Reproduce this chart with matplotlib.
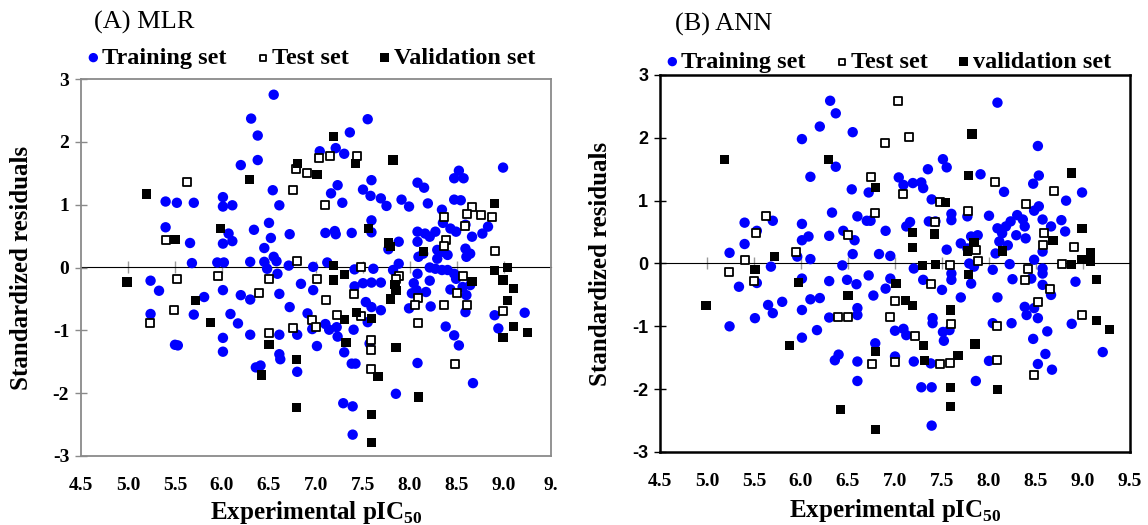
import numpy as np
import matplotlib
matplotlib.use("Agg")
import matplotlib.pyplot as plt

plt.rcParams['font.family'] = 'Liberation Serif'
plt.rcParams['mathtext.fontset'] = 'custom'
plt.rcParams['mathtext.rm'] = 'Liberation Serif'
plt.rcParams['mathtext.bf'] = 'Liberation Serif:bold'
plt.rcParams['axes.unicode_minus'] = False

# =========================
# DATA
# =========================
x_ticks = [4.5, 5.0, 5.5, 6.0, 6.5, 7.0, 7.5, 8.0, 8.5, 9.0, 9.5]
x_labels_mlr = ["4.5", "5.0", "5.5", "6.0", "6.5", "7.0", "7.5", "8.0", "8.5", "9.0", "9."]
x_labels_ann = ["4.5", "5.0", "5.5", "6.0", "6.5", "7.0", "7.5", "8.0", "8.5", "9.0", "9.5"]
y_ticks = [-3, -2, -1, 0, 1, 2, 3]

# (A) MLR
mlr_train_x = [6.55, 6.31, 6.38, 7.36, 6.20, 6.38, 7.04, 7.21, 7.30, 6.54, 6.61, 7.23, 7.16, 7.28,
               5.40, 5.52, 5.70, 6.01, 6.01, 6.11, 5.40, 5.66, 6.07, 6.11, 6.01, 6.50, 6.34, 6.52,
               6.45, 6.72, 7.10, 7.20, 7.21, 7.38, 5.68, 5.95, 6.02, 6.30, 6.45, 6.55, 6.58, 6.71,
               6.97, 7.12, 7.41, 6.48, 6.59, 5.24, 5.33, 6.01, 5.81, 6.20, 6.30, 6.61, 6.84, 6.97,
               6.72, 6.91, 6.09, 6.17, 5.70, 5.24, 6.30, 6.01, 6.01, 6.61, 6.80, 6.61, 6.62, 7.01,
               7.10, 7.14, 7.22, 7.23, 6.96, 7.40, 7.30, 7.38, 7.42, 5.50, 5.53, 6.36, 6.41, 6.80,
               7.41,
               7.55, 7.59, 7.50, 7.58, 7.69, 7.75, 7.91, 7.99, 8.08, 8.15, 8.19, 8.47, 8.52, 8.57,
               8.47, 8.54, 8.99, 7.59, 7.59, 7.88, 7.77,
               8.08, 8.08, 8.16, 8.21, 8.27, 8.34, 8.35, 8.43, 8.49, 8.59, 8.66, 8.77, 8.83, 8.59,
               8.60, 8.64, 8.29, 8.35, 8.40, 8.29, 8.09, 8.14,
               7.88, 7.82, 8.21, 8.27, 8.34, 8.40, 8.47, 8.49, 8.08,
               8.04, 8.02, 8.07, 8.21, 8.17, 8.22, 7.99, 8.43, 8.56, 8.64, 8.60, 8.59, 8.90, 8.94,
               9.22, 8.38, 8.47, 8.52, 8.08, 8.67,
               7.61, 7.50, 7.59, 7.69, 7.53, 7.59, 7.69, 7.55, 7.57,
               7.29, 7.39, 7.85, 7.39]
mlr_train_y = [2.75, 2.37, 2.10, 2.15, 1.63, 1.71, 1.85, 1.90, 1.81, 1.23, 0.99, 1.31, 1.18, 1.03,
               1.05, 1.03, 1.03, 1.12, 0.97, 0.99, 0.64, 0.39, 0.54, 0.42, 0.38, 0.71, 0.60, 0.47,
               0.31, 0.53, 0.55, 0.58, 0.53, 0.55, 0.07, 0.08, 0.08, 0.09, 0.09, 0.17, 0.10, 0.03,
               0.01, 0.08, -0.03, -0.02, -0.10, -0.21, -0.37, -0.36, -0.47, -0.44, -0.51, -0.42,
               -0.26, -0.36, -0.63, -0.73, -0.74, -0.89, -0.75, -0.74, -1.07, -1.12, -1.34, -1.07,
               -1.07, -1.38, -1.46, -1.25, -0.90, -0.99, -0.95, -1.10, -0.98, -0.99, -1.35, -1.53,
               -1.53, -1.23, -1.24, -1.59, -1.56, -1.66,
               -0.30,
               2.36, 1.39, 1.24, 1.14, 1.10, 0.98, 1.08, 0.97, 1.35, 1.27, 1.02, 1.42, 1.54, 1.42,
               1.08, 1.07, 1.59, 0.75, 0.56, 0.41, 0.29,
               0.57, 0.41, 0.54, 0.49, 0.57, 0.92, 0.71, 0.62, 0.57, 0.68, 0.49, 0.54, 0.65, 0.30,
               0.17, 0.22, 0.28, 0.25, 0.20, 0.14, 0.17, 0.22,
               0.06, -0.04, 0.00, -0.02, -0.04, -0.04, -0.10, -0.18, -0.10,
               -0.25, -0.41, -0.36, -0.21, -0.39, -0.62, -0.65, -0.35, -0.31, -0.28, -0.44, -0.71,
               -0.76, -0.97, -0.72, -0.94, -1.08, -1.24, -1.52, -1.84,
               -0.02, -0.25, -0.24, -0.24, -0.55, -0.63, -0.68, -0.87, -1.21,
               -2.16, -2.21, -2.01, -2.66]

mlr_test_x = [5.63, 5.40, 5.52, 5.49, 5.23, 5.96, 6.39, 6.50, 6.50, 6.75, 6.80, 6.79, 6.90, 7.03,
              7.15, 7.44, 7.10, 7.01, 7.11, 7.22, 6.96, 7.00, 6.76, 7.40, 7.48,
              8.36, 8.66, 8.61, 8.75, 8.87, 8.59, 8.38, 8.36, 8.90, 7.88, 7.85, 8.08, 8.05, 8.36,
              8.50, 8.61, 8.56, 8.99, 8.08, 8.48, 7.59, 7.58, 7.59, 7.48]
mlr_test_y = [1.36, 0.44, -0.19, -0.67, -0.88, -0.14, -0.41, -0.19, -1.04, 1.24, 0.10, 1.56, 1.51,
              1.74, 1.77, 1.78, 0.99, -0.19, -0.51, -0.76, -0.83, -0.95, -0.97, -0.42, 0.01,
              0.80, 0.97, 0.85, 0.83, 0.80, 0.66, 0.44, 0.34, 0.26, -0.14, -0.18, -0.48, -0.60,
              -0.59, -0.41, -0.59, -0.14, -0.69, -0.89, -1.54, -1.16, -1.31, -1.62, -0.77]

mlr_val_x = [5.20, 5.50, 5.98, 6.29, 4.99, 5.72, 5.88, 6.50, 6.42, 6.79, 6.80, 7.01, 7.19, 7.42,
             7.19, 7.30, 7.19, 7.30, 7.32, 7.43,
             7.82, 7.56, 7.77, 7.79, 8.14, 8.90, 8.90, 8.99, 8.66, 9.04, 9.10, 9.04, 9.10, 9.25,
             8.99, 7.85, 7.79, 7.85, 7.84, 7.59, 7.66,
             6.79, 7.59, 8.09, 7.59]
mlr_val_y = [1.17, 0.45, 0.62, 1.40, -0.23, -0.52, -0.87, -1.23, -1.71, -1.47, 1.65, 1.48, 2.09,
             1.66, 0.03, -0.11, -0.20, -0.83, -1.19, -0.71,
             1.71, 0.62, 0.39, 0.33, 0.25, 1.02, -0.05, -0.20, -0.22, 0.00, -0.33, -0.52, -0.94,
             -1.04, -1.12, -1.27, -0.50, -0.36, -0.27, -0.81, -1.73,
             -2.23, -2.34, -2.06, -2.78]

# (B) ANN
ann_train_x = [6.31, 6.37, 6.20, 6.55, 6.01, 6.37, 6.10, 6.54, 6.72, 7.04, 7.09, 7.19, 6.33, 6.60,
               6.70, 6.74, 6.90, 7.12, 7.16, 6.01, 5.70, 5.40, 5.53, 5.40, 5.24, 6.01, 6.08, 6.30,
               6.45, 6.57, 6.55, 6.83, 6.95, 6.10, 5.96, 6.44, 5.68, 7.20, 6.01, 6.30, 6.49, 6.59,
               6.72, 6.95, 6.90, 6.77, 5.53, 5.34, 5.65, 5.70, 5.80, 6.10, 6.20, 6.01, 6.30, 6.60,
               6.60, 5.51, 5.24, 6.17, 6.01, 6.36, 6.40, 6.60, 6.60, 6.79, 7.00, 7.09, 7.12, 7.20,
               7.00,
               8.09, 8.52, 7.51, 7.55, 7.35, 7.91, 8.16, 8.53, 8.47, 8.99, 8.82, 7.28, 7.30, 7.39,
               7.60, 7.60, 8.00, 7.77, 7.36, 7.43,
               8.09, 8.14, 8.18, 8.23, 8.30, 8.36, 8.38, 8.29, 8.39, 8.53, 8.48, 8.57, 8.66, 8.77,
               8.81,
               7.81, 7.88, 7.70, 7.55, 7.77,
               8.07, 8.11, 8.20, 8.22, 8.48, 8.57,
               7.79, 7.84, 7.60, 7.60, 7.81, 7.70, 7.50, 7.30, 8.04, 8.25, 8.45, 8.57, 8.57, 8.57,
               8.66, 8.92, 8.09, 8.38, 8.40, 8.48, 8.52, 8.62, 8.47, 8.88, 9.21, 8.60, 8.52, 8.67,
               8.04, 8.24, 8.00, 7.86, 7.40, 7.40, 7.51, 7.58, 7.52, 7.38,
               7.28, 7.39, 7.39]
ann_train_y = [2.59, 2.39, 2.18, 2.09, 1.98, 1.54, 1.38, 1.18, 1.13, 1.37, 1.25, 1.28, 0.81, 0.75,
               0.68, 0.68, 0.52, 0.59, 0.66, 0.63, 0.68, 0.65, 0.52, 0.31, 0.17, 0.37, 0.43, 0.44,
               0.52, 0.37, 0.15, 0.15, 0.12, 0.07, 0.11, -0.03, -0.05, -0.08, -0.24, -0.28, -0.26,
               -0.33, -0.19, -0.24, -0.40, -0.51, -0.31, -0.37, -0.66, -0.79, -0.61, -0.57, -0.55,
               -0.74, -0.86, -0.71, -0.82, -0.87, -1.00, -1.06, -1.18, -1.54, -1.45, -1.56, -1.87,
               -1.27, -1.48, -1.04, -1.14, -1.56, -1.07,
               2.56, 1.87, 1.66, 1.53, 1.50, 1.42, 1.14, 1.40, 1.27, 1.13, 1.00, 1.29, 1.20, 1.02,
               0.79, 0.69, 0.76, 0.75, 0.67, 0.67,
               0.56, 0.48, 0.59, 0.67, 0.77, 0.70, 0.59, 0.45, 0.40, 0.91, 0.84, 0.70, 0.59, 0.69,
               0.51,
               0.43, 0.45, 0.32, 0.22, 0.24,
               0.16, 0.35, 0.29, -0.01, 0.06, 0.19,
               0.00, -0.05, -0.16, -0.26, -0.32, -0.54, -0.42, -0.26, -0.10, -0.25, -0.24, -0.08,
               -0.16, -0.34, -0.50, -0.29, -0.54, -0.69, -0.82, -0.71, -0.87, -1.08, -1.20, -0.96,
               -1.41, -1.44, -1.60, -1.69, -0.95, -0.95, -1.55, -1.87, -0.87, -0.95, -1.09, -1.06,
               -1.23, -1.59,
               -1.97, -1.97, -2.58]

ann_test_x = [7.03, 7.15, 6.89, 6.74, 7.09, 6.79, 5.63, 5.52, 6.50, 5.95, 5.40, 5.23, 5.50, 7.00,
              6.95, 6.39, 6.50, 6.75, 7.00, 7.21,
              8.06, 8.69, 8.39, 7.48, 7.78, 7.43, 8.58, 8.57, 8.90, 8.78, 7.86, 7.88, 7.58, 7.38,
              8.42, 8.38, 8.65, 8.52, 8.99, 8.09, 7.60, 7.48, 7.59, 8.09, 8.48]
ann_test_y = [2.59, 2.01, 1.91, 1.38, 1.10, 0.80, 0.76, 0.49, 0.46, 0.18, 0.06, -0.14, -0.28,
              -0.60, -0.85, -0.85, -0.85, -1.60, -1.56, -1.15,
              1.29, 1.16, 0.95, 0.98, 0.83, 0.66, 0.49, 0.29, 0.27, -0.01, 0.21, 0.04, -0.02,
              -0.33, -0.08, -0.26, -0.40, -0.62, -0.82, -0.99, -0.96, -1.60, -1.58, -1.54, -1.78]

ann_val_x = [5.19, 6.29, 6.79, 7.19, 7.19, 5.72, 5.51, 5.97, 6.50, 7.01, 7.11, 7.19, 4.99, 5.88,
             6.79,
             7.82, 7.78, 8.88, 7.54, 8.99, 7.42, 7.84, 7.77, 8.14, 8.68, 9.08, 9.08, 8.99, 8.88,
             7.29, 7.43, 7.78, 9.14, 7.59, 7.30, 7.31, 7.67, 7.85, 9.14, 9.28,
             7.59, 8.09, 7.59, 6.42, 6.79]
ann_val_y = [1.66, 1.65, 1.21, 0.49, 0.26, 0.11, -0.09, -0.30, -0.51, -0.32, -0.59, -0.67, -0.67,
             -1.31, -1.40,
             2.06, 1.40, 1.44, 0.97, 0.56, 0.47, 0.33, 0.20, 0.20, 0.36, 0.17, 0.04, 0.06, -0.01,
             -0.03, -0.01, -0.18, -0.25, -0.74, -1.30, -1.54, -1.47, -1.28, -0.91, -1.05,
             -1.97, -2.00, -2.28, -2.32, -2.64]

W, H = 1148, 525


def panel(ax, title, val_name, tr, te, va, xlabels, frame_color, frame_lw, ytick_family):
    ax.scatter(tr[0], tr[1], s=56, c="#0000ff", edgecolors="none", zorder=3, label="Training set")
    ax.scatter(te[0], te[1], s=30, marker="s", facecolors="white", edgecolors="black",
               linewidths=1.3, zorder=4, label="Test set")
    ax.scatter(va[0], va[1], s=44, marker="s", c="black", edgecolors="none", zorder=5, label=val_name)

    ax.set_xlim(4.5, 9.5)
    ax.set_ylim(-3, 3)
    ax.set_xticks(x_ticks)
    ax.set_xticklabels(xlabels, fontsize=14, fontweight="bold", family="Liberation Serif")
    ax.tick_params(axis="x", length=0, pad=15)
    ax.set_yticks(y_ticks)
    ax.set_yticklabels([str(v) for v in y_ticks], fontsize=14 if ytick_family == "Liberation Serif" else 13,
                       fontweight="bold", family=ytick_family)
    ax.tick_params(axis="y", direction="inout", length=9, width=1, color=frame_color, pad=4)

    for sp in ax.spines.values():
        sp.set_color(frame_color)
        sp.set_linewidth(frame_lw)

    # zero line with cross ticks
    zero = ax.secondary_xaxis(0.5)
    zero.set_xticks(x_ticks[1:-1])
    zero.set_xticklabels([])
    zero.tick_params(direction="inout", length=9, width=1, color="#9a9a9a",
                     labelbottom=False, labeltop=False)
    zero.spines["bottom"].set_color("#9a9a9a")
    zero.spines["bottom"].set_linewidth(1)

    ax.set_ylabel("Standardized residuals", fontsize=18, fontweight="bold")
    ax.set_xlabel(r"Experimental pIC$_{\mathbf{50}}$", fontsize=18, fontweight="bold")
    ax.xaxis.label.set_va("center")
    ax.yaxis.label.set_va("center")

    ax.legend(loc="center left", ncol=3, frameon=False, handlelength=0.55, handletextpad=0.1,
              columnspacing=1.2, borderpad=0, borderaxespad=0, markerscale=0.9,
              prop=dict(family="Liberation Serif", weight="bold", size=17.5))
    ax.text(0.03, 0, title, transform=ax.transAxes, fontsize=19, va="center", ha="left")
    return ax


fig = plt.figure(figsize=(W / 100, H / 100), dpi=100)

# (A) MLR: plot box 81..551 x 79..456 px
axA = fig.add_axes([81 / W, 1 - 456 / H, 470 / W, 377 / H])
panel(axA, "(A) MLR", "Validation set", (mlr_train_x, mlr_train_y), (mlr_test_x, mlr_test_y),
      (mlr_val_x, mlr_val_y), x_labels_mlr, "#8a8a8a", 1.3, "Liberation Serif")
axA.get_legend().set_bbox_to_anchor((0.012, 1 + 21 / 377), transform=axA.transAxes)
axA.texts[0].set_position((0.028, 1 + 57 / 377))
axA.yaxis.set_label_coords(-(81 - 22) / 470, 0.5)
axA.xaxis.set_label_coords(0.5, -(512 - 456) / 377)

# (B) ANN: plot box 660..1130 x 75..452 px
axB = fig.add_axes([660 / W, 1 - 452 / H, 470 / W, 377 / H])
panel(axB, "(B) ANN", "validation set", (ann_train_x, ann_train_y), (ann_test_x, ann_test_y),
      (ann_val_x, ann_val_y), x_labels_ann, "black", 1.8, "Liberation Sans")
axB.get_legend().set_bbox_to_anchor((0.012, 1 + 13 / 377), transform=axB.transAxes)
axB.texts[0].set_position((0.032, 1 + 51 / 377))
axB.yaxis.set_label_coords(-(660 - 600) / 470, 0.5)
axB.xaxis.set_label_coords(0.5, -(510 - 452) / 377)

fig.savefig("out.png", dpi=100)
